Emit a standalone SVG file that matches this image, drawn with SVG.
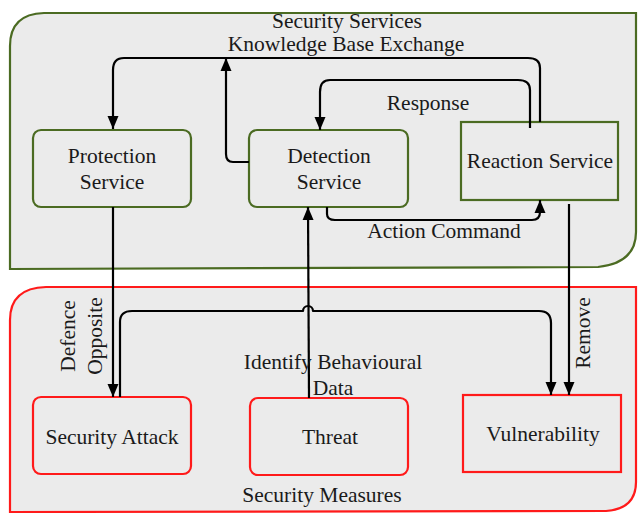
<svg xmlns="http://www.w3.org/2000/svg" width="638" height="513" viewBox="0 0 638 513">
  <style>
    .lbl { font-family: "Liberation Serif", "Times New Roman", serif; font-size: 21.5px; fill: #1a1a1a; text-anchor: middle; }
    .grp { fill: #ebebeb; stroke-width: 2.2; }
    .svc { fill: #ebebeb; stroke: #4b6b22; stroke-width: 2.2; }
    .thr { fill: #ebebeb; stroke: #ff1a1a; stroke-width: 2.2; }
    .edge { fill: none; stroke: #000; stroke-width: 2.2; stroke-linejoin: round; }
  </style>
  <defs>
    <marker id="arrow" markerUnits="userSpaceOnUse" markerWidth="14" markerHeight="14" viewBox="0 0 14 14" refX="13" refY="7" orient="auto">
      <path d="M0,1.5 L13,7 L0,12.5 Z" fill="#000"/>
    </marker>
  </defs>

  <!-- container: security services -->
  <g id="security-services">
    <path class="grp" stroke="#4b6b22" d="M10,269 L10,46 Q10,14 44,13 L636,13 L636,232 Q636,263 598,267 L10,269 Z"/>
    <text class="lbl" x="347" y="28">Security Services</text>
    <text class="lbl" x="346" y="51">Knowledge Base Exchange</text>
  </g>

  <!-- container: security measures -->
  <g id="security-measures">
    <path class="grp" stroke="#ff1a1a" d="M10,512 L10,320 Q10,288 46,287 L636,287 L636,482 Q636,509 606,511 L10,512 Z"/>
    <text class="lbl" x="322" y="502">Security Measures</text>
  </g>

  <!-- service nodes -->
  <g id="protection-service">
    <rect class="svc" x="33" y="130" width="158" height="77" rx="8"/>
    <text class="lbl" x="112" y="163">Protection</text>
    <text class="lbl" x="112" y="189">Service</text>
  </g>
  <g id="detection-service">
    <rect class="svc" x="249" y="130" width="159" height="77" rx="8"/>
    <text class="lbl" x="329" y="163">Detection</text>
    <text class="lbl" x="329" y="189">Service</text>
  </g>
  <g id="reaction-service">
    <rect class="svc" x="461" y="122" width="157" height="78"/>
    <text class="lbl" x="540" y="168">Reaction Service</text>
  </g>

  <!-- measure nodes -->
  <g id="security-attack">
    <rect class="thr" x="33" y="397" width="158" height="77" rx="8"/>
    <text class="lbl" x="112" y="444">Security Attack</text>
  </g>
  <g id="threat">
    <rect class="thr" x="250" y="398" width="158" height="77" rx="8"/>
    <text class="lbl" x="330" y="444">Threat</text>
  </g>
  <g id="vulnerability">
    <rect class="thr" x="463" y="395" width="158" height="77"/>
    <text class="lbl" x="543" y="441">Vulnerability</text>
  </g>

  <!-- connectors -->
  <g id="connectors">
    <!-- knowledge base exchange -->
    <path class="edge" marker-end="url(#arrow)" d="M540,122 L540,68 Q540,58 528,58 L124,58 Q113,58 113,70 L113,129"/>
    <path class="edge" marker-end="url(#arrow)" d="M249,162 L233,162 Q226,162 226,154 L226,58"/>
    <!-- response -->
    <path class="edge" marker-end="url(#arrow)" d="M530,128 L530,90 Q530,80 518,80 L330,80 Q320,80 320,92 L320,130"/>
    <text class="lbl" x="428" y="110">Response</text>
    <!-- action command -->
    <path class="edge" marker-end="url(#arrow)" d="M327,207 L327,214 Q327,220 335,220 L532,220 Q540,220 540,212 L540,200"/>
    <text class="lbl" x="444" y="238">Action Command</text>
    <!-- remove -->
    <path class="edge" marker-end="url(#arrow)" d="M569,204 L569,395"/>
    <text class="lbl" transform="translate(590,333) rotate(-90)">Remove</text>
    <!-- defence / opposite -->
    <path class="edge" marker-end="url(#arrow)" d="M113,207 L113,397"/>
    <text class="lbl" transform="translate(75,336) rotate(-90)">Defence</text>
    <text class="lbl" transform="translate(102,336) rotate(-90)">Opposite</text>
    <!-- attack to vulnerability, hopping over the threat line -->
    <path class="edge" marker-end="url(#arrow)" d="M120,397 L120,322 Q120,311 132,311 L303,311 A5,5 0 0 1 313,311 L539,311 Q551,311 551,323 L551,395"/>
    <!-- identify behavioural data -->
    <path class="edge" marker-end="url(#arrow)" d="M309,398 L308,207"/>
    <text class="lbl" x="333" y="369">Identify Behavioural</text>
    <text class="lbl" x="333" y="395">Data</text>
  </g>
</svg>
